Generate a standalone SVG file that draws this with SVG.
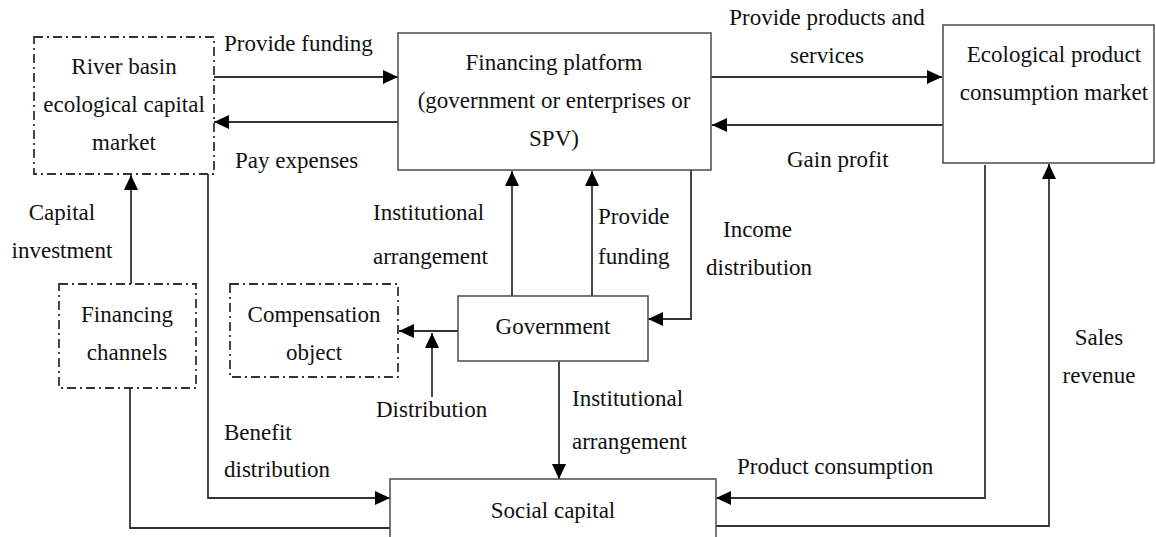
<svg xmlns="http://www.w3.org/2000/svg" width="1156" height="537" viewBox="0 0 1156 537">
<style>
text{font-family:"Liberation Serif","Times New Roman",serif;font-size:23px;fill:#111}
.c{text-anchor:middle}
.box{fill:#fff;stroke:#555;stroke-width:1.6}
.dd{fill:#fff;stroke:#333;stroke-width:1.8;stroke-dasharray:9 4 2 4}
.ln{fill:none;stroke:#333;stroke-width:1.8}
.ar{marker-end:url(#ah)}
</style>
<defs>
<marker id="ah" markerUnits="userSpaceOnUse" markerWidth="16" markerHeight="14" refX="15" refY="7" orient="auto">
<path d="M0,0 L15,7 L0,14 Z" fill="#000"/>
</marker>
</defs>
<rect width="1156" height="537" fill="#fff"/>
<g id="connectors">
<path class="ln ar" d="M214,77 H398"/>
<path class="ln ar" d="M398,122 H214"/>
<path class="ln ar" d="M711,77 H942"/>
<path class="ln ar" d="M943,125 H712"/>
<path class="ln ar" d="M131,284 V175"/>
<path class="ln" d="M130,388 V528 H390"/>
<path class="ln ar" d="M208,174 V498 H390"/>
<path class="ln ar" d="M458,331 H399"/>
<path class="ln ar" d="M432,397 V333"/>
<path class="ln ar" d="M512,296 V171"/>
<path class="ln ar" d="M592,296 V171"/>
<path class="ln ar" d="M691,170 V319 H648"/>
<path class="ln ar" d="M559,361 V479"/>
<path class="ln ar" d="M985,165 V498 H716"/>
<path class="ln ar" d="M716,526 H1049 V164"/>
</g>
<g id="river-basin">
<rect class="dd" x="34" y="37" width="180" height="137"/>
<text class="c" x="124" y="74">River basin</text>
<text class="c" x="124" y="112">ecological capital</text>
<text class="c" x="124" y="150">market</text>
</g>
<g id="financing-platform">
<rect class="box" x="398" y="33" width="313" height="137"/>
<text class="c" x="554" y="70">Financing platform</text>
<text class="c" x="554" y="108">(government or enterprises or</text>
<text class="c" x="554" y="146">SPV)</text>
</g>
<g id="eco-market">
<rect class="box" x="943" y="25" width="211" height="138"/>
<text class="c" x="1054" y="62">Ecological product</text>
<text class="c" x="1054" y="100">consumption market</text>
</g>
<g id="financing-channels">
<rect class="dd" x="59" y="284" width="137" height="104"/>
<text class="c" x="127" y="322">Financing</text>
<text class="c" x="127" y="360">channels</text>
</g>
<g id="compensation">
<rect class="dd" x="230" y="284" width="168" height="93"/>
<text class="c" x="314" y="322">Compensation</text>
<text class="c" x="314" y="360">object</text>
</g>
<g id="government">
<rect class="box" x="458" y="296" width="190" height="65"/>
<text class="c" x="553" y="334">Government</text>
</g>
<g id="social-capital">
<rect class="box" x="390" y="479" width="326" height="70"/>
<text class="c" x="553" y="518">Social capital</text>
</g>
<g id="labels">
<text x="224" y="51">Provide funding</text>
<text x="235" y="168">Pay expenses</text>
<text class="c" x="827" y="25">Provide products and</text>
<text class="c" x="827" y="63">services</text>
<text x="787" y="167">Gain profit</text>
<text class="c" x="62" y="220">Capital</text>
<text class="c" x="62" y="258">investment</text>
<text x="373" y="220">Institutional</text>
<text x="373" y="264">arrangement</text>
<text x="598" y="224">Provide</text>
<text x="598" y="264">funding</text>
<text x="723" y="237">Income</text>
<text x="706" y="275">distribution</text>
<text x="376" y="417">Distribution</text>
<text x="572" y="406">Institutional</text>
<text x="572" y="449">arrangement</text>
<text x="224" y="440">Benefit</text>
<text x="224" y="477">distribution</text>
<text x="737" y="474">Product consumption</text>
<text class="c" x="1099" y="345">Sales</text>
<text class="c" x="1099" y="383">revenue</text>
</g>
</svg>
